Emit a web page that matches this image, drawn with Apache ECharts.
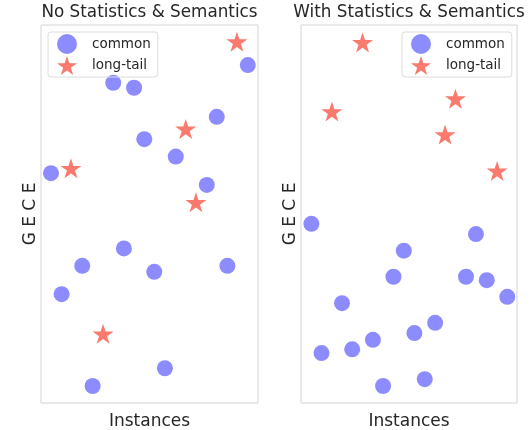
<!DOCTYPE html>
<html lang="en">
<head>
    <meta charset="UTF-8">
    <title>GECE scatter</title>
    <script src="https://cdn.jsdelivr.net/npm/echarts@6/dist/echarts.min.js"></script>
    <style>
        html, body { margin: 0; padding: 0; background: #fff; }
    </style>
</head>
<body>
<div id="main" style="width: 532px;height:430px;"></div>
<script type="text/javascript">
    // panel titles
    var panelTitles = ['No Statistics & Semantics', 'With Statistics & Semantics'];

    // left panel: [instance, GECE] on a 0-100 scale
    var noCommon = [
        [33.3, 84.7], [42.9, 83.4], [81.0, 75.7], [47.6, 69.8], [62.1, 65.2],
        [4.6, 60.8], [76.4, 57.7], [95.3, 89.4], [38.2, 40.9], [19.0, 36.3],
        [52.2, 34.7], [85.9, 36.3], [9.5, 28.8], [57.1, 9.2], [23.8, 4.5]
    ];
    var noLongTail = [
        [90.3, 95.6], [66.7, 72.5], [13.8, 62.1], [71.4, 53.1], [28.6, 18.3]
    ];

    // right panel
    var withCommon = [
        [4.8, 47.4], [81.0, 44.7], [47.6, 40.3], [42.8, 33.4], [76.4, 33.4],
        [86.0, 32.5], [95.5, 28.1], [19.0, 26.4], [62.1, 21.2], [52.5, 18.5],
        [33.3, 16.7], [23.7, 14.2], [9.5, 13.2], [57.3, 6.3], [38.0, 4.5]
    ];
    var withLongTail = [
        [28.5, 95.4], [14.3, 77.1], [71.5, 80.5], [66.7, 71.0], [90.8, 61.4]
    ];

    var font = 'DejaVu Sans';
    var textColor = '#262626';
    var blue = '#8c8cff';
    var salmon = '#fa7a6e';
    var star = 'path://M50 0 L61.23 34.55 L97.55 34.55 L68.17 55.9 L79.39 90.45 L50 69.1 L20.61 90.45 L31.83 55.9 L2.45 34.55 L38.77 34.55 Z';

    var grids = [
        {left: 41, top: 25, width: 217, height: 378},
        {left: 301, top: 25, width: 216, height: 378}
    ];

    function makeAxis(i, isX) {
        return {
            type: 'value',
            gridIndex: i,
            min: 0,
            max: 100,
            name: isX ? 'Instances' : 'G E C E',
            nameLocation: 'middle',
            nameGap: isX ? 10 : 2,
            nameTextStyle: {fontFamily: font, fontSize: 17, color: textColor},
            axisLine: {show: false},
            axisTick: {show: false},
            axisLabel: {show: false},
            splitLine: {show: false}
        };
    }

    function makeLegend(left) {
        return {
            left: left,
            top: 32,
            orient: 'vertical',
            itemWidth: 20,
            itemHeight: 20,
            itemGap: 2,
            padding: [2, 7, 2, 9],
            borderColor: '#dcdcdc',
            borderWidth: 1,
            borderRadius: 3,
            textStyle: {fontFamily: font, fontSize: 13.5, color: textColor, padding: [0, 0, 0, 10]},
            data: [{name: 'common', icon: 'circle'}, {name: 'long-tail', icon: star}]
        };
    }

    var myChart = echarts.init(document.getElementById('main'));

    var series = [];
    [[noCommon, noLongTail], [withCommon, withLongTail]].forEach(function (pair, i) {
        series.push({
            name: 'common', type: 'scatter', xAxisIndex: i, yAxisIndex: i,
            symbol: 'circle', symbolSize: 16,
            itemStyle: {color: blue, opacity: 1},
            data: pair[0]
        });
        series.push({
            name: 'long-tail', type: 'scatter', xAxisIndex: i, yAxisIndex: i,
            symbol: star, symbolSize: [21, 20],
            itemStyle: {color: salmon, opacity: 1},
            data: pair[1]
        });
    });

    var option = {
        animation: false,
        backgroundColor: '#fff',
        title: panelTitles.map(function (t, i) {
            return {
                text: t,
                left: grids[i].left + grids[i].width / 2,
                textAlign: 'center',
                top: 4,
                padding: 0,
                textStyle: {fontFamily: font, fontSize: 16.8, fontWeight: 'normal', color: textColor}
            };
        }),
        legend: [makeLegend(48), makeLegend(402)],
        grid: grids.map(function (g) {
            return Object.assign({show: true, borderColor: '#d4d4d4', borderWidth: 1, outerBoundsMode: 'none', containLabel: false}, g);
        }),
        xAxis: [makeAxis(0, true), makeAxis(1, true)],
        yAxis: [makeAxis(0, false), makeAxis(1, false)],
        series: series
    };

    myChart.setOption(option);
</script>
</body>
</html>
